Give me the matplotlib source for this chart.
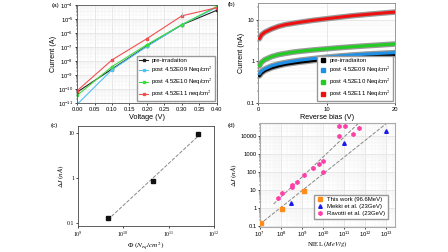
import numpy as np
import matplotlib.pyplot as plt
from matplotlib.lines import Line2D

# (a) forward I-V
volt_a = [0.0, 0.1, 0.2, 0.3, 0.4]
cur_pre = [6.0e-11, 2.7e-9, 1.2e-7, 3.9e-6, 4.2e-5]
cur_e09 = [8.0e-12, 2.4e-9, 1.1e-7, 4.0e-6, 6.7e-5]
cur_e10 = [3.5e-11, 4.0e-9, 1.5e-7, 4.0e-6, 8.0e-5]
cur_e11 = [7.5e-11, 1.2e-8, 4.0e-7, 1.7e-5, 6.5e-5]
labels_a = ["pre-irradaiton", "post 4.52E09 Neq/cm$^2$",
            "post 4.52E10 Neq/cm$^2$", "post 4.52E11 neq/cm$^2$"]

# (b) reverse I-V (nA)
volt_b = [0.2, 0.5, 1, 2, 3, 4, 5, 6, 8, 10, 12, 14, 16, 18, 20]
rev_pre = [0.45, 0.52, 0.60, 0.70, 0.78, 0.85, 0.90, 0.95, 1.04, 1.13, 1.21, 1.28, 1.35, 1.41, 1.46]
rev_e09 = [0.50, 0.58, 0.66, 0.78, 0.87, 0.94, 1.00, 1.06, 1.16, 1.26, 1.35, 1.43, 1.50, 1.56, 1.62]
rev_e10 = [0.78, 0.95, 1.10, 1.30, 1.45, 1.55, 1.65, 1.73, 1.87, 2.00, 2.13, 2.25, 2.37, 2.48, 2.60]
rev_e11 = [3.5, 4.3, 5.0, 6.0, 6.9, 7.6, 8.1, 8.6, 9.6, 10.5, 11.5, 12.5, 13.4, 14.3, 15.2]
labels_b = ["pre-irradiaiton", "post 4.52E09 Neq/cm$^2$",
            "post 4.52E10 Neq/cm$^2$", "post 4.52E11 Neq/cm$^2$"]

# (c) delta I vs fluence
fluence = [4.52e9, 4.52e10, 4.52e11]
delta_i = [0.125, 0.86, 9.1]

# (d) delta I vs NIEL
niel_this = [1.1e7, 1.07e8, 1.2e9]
di_this = [0.135, 0.92, 9.3]
niel_mekki = [2.9e8, 1.0e11, 1.0e13]
di_mekki = [1.9, 4.0e3, 1.9e4]
niel_ravotti = [7.4e7, 1.15e8, 3.5e8, 3.5e8, 6.0e8, 1.25e9, 3.2e9, 6.3e9, 1.0e10, 1.0e10,
                5.8e10, 5.8e10, 1.1e11, 2.7e11, 5.2e11]
di_ravotti = [3.4, 6.9, 19, 15, 29, 68, 160, 300, 400, 95, 1.0e4, 3.6e4, 3.6e4, 1.3e4, 2.8e4]

plt.rcParams['font.family'] = ['Liberation Sans', 'DejaVu Sans']
plt.rcParams['mathtext.fontset'] = 'stix'

fig = plt.figure(figsize=(4.48, 2.52), dpi=100)
fs_tick = 4.2
fs_lab = 5.2
fs_leg = 4.3

# ---------------- (a)
ax = fig.add_axes([0.172, 0.591, 0.312, 0.389])
cols_a = ['#222222', '#4fc3f7', '#3ddc3d', '#f05050']
for y, c, l in zip([cur_pre, cur_e09, cur_e10, cur_e11], cols_a, labels_a):
    ax.plot(volt_a, y, '-s', color=c, lw=0.8, ms=1.8, label=l)
ax.errorbar([volt_a[3]], [cur_e11[3]], yerr=[[0], [1.6e-5]], fmt='none',
            ecolor='#bbbbbb', elinewidth=0.6)
ax.set_yscale('log')
ax.set_xlim(0, 0.4)
ax.set_ylim(1e-11, 1e-4)
ax.set_xticks(np.arange(0, 0.401, 0.05))
ax.set_xticklabels(["%.2f" % v for v in np.arange(0, 0.401, 0.05)])
ax.set_xlabel("Voltage (V)", fontsize=fs_lab, labelpad=1.5)
ax.set_ylabel("Current (A)", fontsize=fs_lab, labelpad=1)
ax.grid(True, which='major', color='#dddddd', lw=0.5)
ax.grid(True, which='minor', color='#eeeeee', lw=0.3)
ax.minorticks_on()
ax.tick_params(labelsize=fs_tick, length=1.5, width=0.5, pad=1)
ax.tick_params(which='minor', length=0.8, width=0.3)
for s in ax.spines.values():
    s.set_linewidth(0.6)
    s.set_color('#555555')
ax.legend(loc='lower right', fontsize=fs_leg, handlelength=1.5, borderpad=0.35,
          labelspacing=0.25, handletextpad=0.5, framealpha=1, edgecolor='#999999',
          fancybox=False, borderaxespad=0.3)
fig.text(0.116, 0.972, "(a)", fontsize=4.5)

# ---------------- (b)
ax = fig.add_axes([0.576, 0.591, 0.306, 0.397])
cols_b = ['#000000', '#1e90e6', '#22cc22', '#ee1111']
for y, c in zip([rev_pre, rev_e09, rev_e10, rev_e11], cols_b):
    ax.plot(volt_b, y, color='#999999', lw=4.0, solid_capstyle='round', zorder=2)
    ax.plot(volt_b, y, color=c, lw=2.2, solid_capstyle='round', zorder=3)
ax.errorbar([11.8], [rev_e09[10]], yerr=[[0.05], [0.12]], fmt='none',
            ecolor='#1e90e6', elinewidth=0.6, zorder=4)
ax.set_yscale('log')
ax.set_xlim(0, 20)
ax.set_ylim(0.1, 25)
ax.set_xticks([0, 10, 20])
ax.set_yticks([0.1, 1, 10])
ax.set_yticklabels(["0.1", "1", "10"])
ax.set_xlabel("Reverse bias (V)", fontsize=fs_lab, labelpad=2)
ax.set_ylabel("Current (nA)", fontsize=fs_lab, labelpad=1)
ax.grid(True, which='major', color='#dddddd', lw=0.5)
ax.grid(True, which='minor', axis='y', color='#eeeeee', lw=0.3)
ax.tick_params(labelsize=fs_tick, length=1.5, width=0.5, pad=1)
ax.tick_params(which='minor', length=0.8, width=0.3)
for s in ax.spines.values():
    s.set_linewidth(0.6)
    s.set_color('#888888')
handles = [Line2D([], [], ls='none', marker='s', ms=2.2, color=c) for c in cols_b]
ax.legend(handles, labels_b, loc='lower right', fontsize=fs_leg, handlelength=1.2,
          borderpad=0.35, labelspacing=0.25, handletextpad=0.5, framealpha=1,
          edgecolor='#999999', fancybox=False, borderaxespad=0.3)
fig.text(0.507, 0.975, "(b)", fontsize=4.5)

# ---------------- (c)
ax = fig.add_axes([0.174, 0.103, 0.304, 0.397])
fit_c = np.polyfit(np.log10(fluence), np.log10(delta_i), 1)
xf = np.array([min(fluence), max(fluence)])
ax.plot(xf, 10 ** np.polyval(fit_c, np.log10(xf)), '--', color='#888888', lw=0.7)
ax.plot(fluence, delta_i, 's', color='#111111', ms=2.2)
ax.set_xscale('log')
ax.set_yscale('log')
ax.set_xlim(1e9, 1e12)
ax.set_ylim(0.085, 14)
ax.set_yticks([0.1, 1, 10])
ax.set_yticklabels(["0.1", "1", "10"], family='Liberation Serif')
for t in ax.get_xticklabels():
    t.set_family('Liberation Serif')
ax.minorticks_off()
ax.set_xlabel(r"$\Phi\ (N_{eq}/cm^2)$", fontsize=fs_lab, labelpad=1)
ax.set_ylabel(r"$\Delta I\ (nA)$", fontsize=fs_lab, labelpad=1)
ax.tick_params(labelsize=fs_tick, length=1.5, width=0.5, pad=1)
for s in ax.spines.values():
    s.set_linewidth(0.6)
    s.set_color('#444444')
fig.text(0.112, 0.497, "(c)", fontsize=4.5)

# ---------------- (d)
ax = fig.add_axes([0.580, 0.100, 0.301, 0.412])
fit_lo = np.polyfit(np.log10(niel_this + niel_mekki), np.log10(di_this + di_mekki), 1)
fit_hi = np.polyfit(np.log10(niel_ravotti), np.log10(di_ravotti), 1)
xl = np.array([1e7, 2.5e13])
ax.plot(xl, 10 ** np.polyval(fit_lo, np.log10(xl)), '--', color='#888888', lw=0.7, zorder=2)
xh = np.array([4.5e7, 1e13])
ax.plot(xh, 10 ** np.polyval(fit_hi, np.log10(xh)), '--', color='#888888', lw=0.7, zorder=2)
ax.plot(niel_this, di_this, 's', color='#ff8c1a', ms=2.4, label="This work (96.6MeV)", zorder=3)
ax.plot(niel_mekki, di_mekki, '^', color='#1a1aee', ms=2.6, label="Mekki et al. (23GeV)", zorder=3)
ax.plot(niel_ravotti, di_ravotti, 'h', color='#ff3fa8', ms=2.6, label="Ravotti et al. (23GeV)", zorder=3)
ax.set_xscale('log')
ax.set_yscale('log')
ax.set_xlim(1e7, 2.5e13)
ax.set_ylim(0.088, 5.5e4)
ax.set_xticks([1e7, 1e8, 1e9, 1e10, 1e11, 1e12, 1e13])
ax.set_yticks([0.1, 1, 10, 100, 1000, 10000])
ax.set_yticklabels(["0.1", "1", "10", "100", "1000", "10000"])
ax.set_xlabel(r"NIEL $(MeV/g)$", fontsize=4.8, labelpad=0.3, family='Liberation Serif')
ax.set_ylabel(r"$\Delta I\ (nA)$", fontsize=fs_lab, labelpad=1)
ax.grid(True, which='major', color='#dddddd', lw=0.5)
ax.grid(True, which='minor', color='#f0f0f0', lw=0.3)
ax.tick_params(labelsize=fs_tick, length=1.5, width=0.5, pad=0.8)
ax.tick_params(which='minor', length=0.8, width=0.3)
for s in ax.spines.values():
    s.set_linewidth(0.8)
    s.set_color('#aaaaaa')
ax.legend(loc='lower right', fontsize=fs_leg, handlelength=1.0, borderpad=0.4,
          labelspacing=0.3, framealpha=1, edgecolor='#999999', fancybox=False,
          bbox_to_anchor=(0.97, 0.05))
fig.text(0.507, 0.497, "(d)", fontsize=4.5)

fig.savefig("out.png", dpi=100)
